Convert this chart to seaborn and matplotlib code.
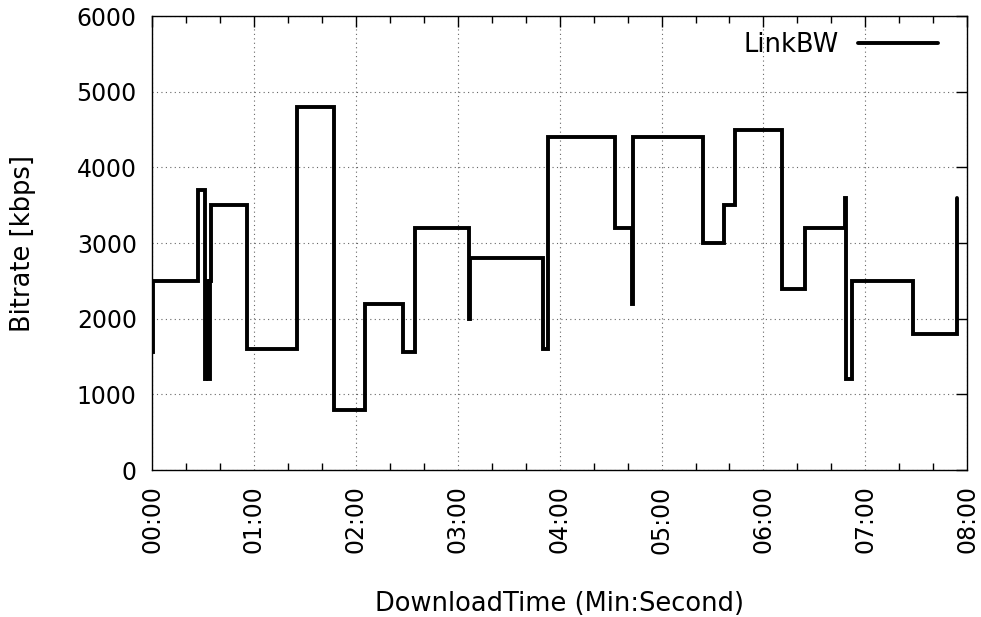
import matplotlib
matplotlib.use("Agg")
import matplotlib.pyplot as plt
import matplotlib.ticker as mticker
import numpy as np
import pandas as pd
import seaborn as sns

# Link bandwidth trace: change times (seconds) and the rate that holds from each time on
change_times = [0, 0.5, 27, 31, 32, 33, 34, 35, 56, 85.5, 107, 125.5, 148, 155,
                186.5, 187, 230, 233, 272.5, 282.5, 283, 324.5, 337, 343, 371,
                384.5, 408, 408.5, 412, 448, 474]
link_kbps = [1560, 2500, 3700, 1200, 2500, 1200, 2500, 3500, 1600, 4800, 800, 2200,
             1560, 3200, 2000, 2800, 1600, 4400, 3200, 2200, 4400, 3000, 3500, 4500,
             2400, 3200, 3600, 1200, 2500, 1800, 3600]
series_name = "LinkBW"

x_ticks = list(range(0, 481, 60))
y_ticks = list(range(0, 6001, 1000))

sns.set_style("white")
plt.rcParams["font.family"] = ["DejaVu Sans"]
plt.rcParams["text.color"] = "black"
plt.rcParams["axes.labelcolor"] = "black"
plt.rcParams["xtick.color"] = "black"
plt.rcParams["ytick.color"] = "black"

df = pd.DataFrame({"t": change_times, "bw": link_kbps})

fig = plt.figure(figsize=(9.81, 6.17), dpi=100)
ax = fig.add_axes([0.155, 0.238, 0.831, 0.736])

sns.lineplot(data=df, x="t", y="bw", ax=ax, drawstyle="steps-post",
             color="black", linewidth=2.8, estimator=None, sort=False,
             label=series_name, solid_capstyle="round", solid_joinstyle="miter")

ax.set_xlim(0, 480)
ax.set_ylim(0, 6000)
ax.set_xticks(x_ticks)
ax.set_yticks(y_ticks)
ax.xaxis.set_minor_locator(mticker.MultipleLocator(20))
ax.xaxis.set_major_formatter(
    mticker.FuncFormatter(lambda v, _: f"{int(v) // 60:02d}:{int(v) % 60:02d}"))

ax.grid(True, which="major", linestyle=(0, (1, 3)), color="#666666", linewidth=0.8)
ax.set_axisbelow(True)

for side in ["left", "right", "top", "bottom"]:
    ax.spines[side].set_visible(True)
    ax.spines[side].set_color("black")
    ax.spines[side].set_linewidth(1.0)

ax.tick_params(axis="both", which="major", direction="in", length=8, width=1,
               top=True, right=True, labelsize=17, pad=11, color="black",
               labelcolor="black")
ax.tick_params(axis="x", which="minor", direction="in", length=5, width=1,
               top=True, bottom=True)
ax.tick_params(axis="x", which="major", labelrotation=90)

ax.set_xlabel("DownloadTime (Min:Second)", fontsize=18.5, labelpad=27, color="black")
ax.set_ylabel("Bitrate [kbps]", fontsize=18.5, labelpad=29, color="black")

leg = ax.legend(loc="upper right", frameon=False, fontsize=18.5, markerfirst=False,
                handlelength=3.1, handletextpad=0.74, borderaxespad=0.6,
                bbox_to_anchor=(1 - 4 / 815, 1 + 10 / 454))
for txt in leg.get_texts():
    txt.set_color("black")

fig.savefig("out.png", dpi=100)
